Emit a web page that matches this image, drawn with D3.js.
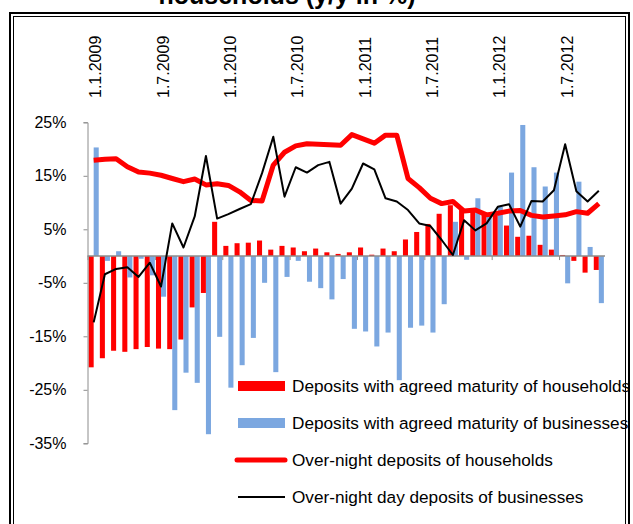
<!DOCTYPE html>
<html>
<head>
<meta charset="utf-8">
<script src="https://cdn.jsdelivr.net/npm/d3@7"></script>
<style>
  body { margin: 0; background: #fff; }
  svg text { font-family: "Liberation Sans", Arial, sans-serif; fill: #000; }
</style>
</head>
<body>
<div id="chart"></div>
<script>
// months Jan 2009 .. Oct 2012
var categories = [
  "1.1.2009","1.2.2009","1.3.2009","1.4.2009","1.5.2009","1.6.2009","1.7.2009","1.8.2009","1.9.2009","1.10.2009","1.11.2009","1.12.2009",
  "1.1.2010","1.2.2010","1.3.2010","1.4.2010","1.5.2010","1.6.2010","1.7.2010","1.8.2010","1.9.2010","1.10.2010","1.11.2010","1.12.2010",
  "1.1.2011","1.2.2011","1.3.2011","1.4.2011","1.5.2011","1.6.2011","1.7.2011","1.8.2011","1.9.2011","1.10.2011","1.11.2011","1.12.2011",
  "1.1.2012","1.2.2012","1.3.2012","1.4.2012","1.5.2012","1.6.2012","1.7.2012","1.8.2012","1.9.2012","1.10.2012"
];
var tickLabels = ["1.1.2009","1.7.2009","1.1.2010","1.7.2010","1.1.2011","1.7.2011","1.1.2012","1.7.2012"];
var yTicks = [-35, -25, -15, -5, 5, 15, 25];

// deposits with agreed maturity of households (red bars)
var hhAgreed = [-20.8,-19.1,-17.7,-17.9,-17.4,-17.0,-17.3,-17.4,-15.6,-9.6,-6.9,6.4,
  1.9,2.4,2.5,2.9,1.2,1.9,1.6,0.9,1.4,0.7,0.4,0.7,
  1.6,0.25,1.4,0.9,3.1,4.5,6.0,7.9,9.5,8.6,8.7,8.0,
  7.5,5.7,3.6,3.8,2.1,1.2,0.2,-0.9,-3.1,-2.6];
// deposits with agreed maturity of businesses (blue bars)
var bizAgreed = [20.3,-0.9,0.9,-4.0,-0.5,-3.6,-7.6,-28.8,-21.8,-23.7,-33.3,-15.1,
  -24.6,-20.4,-15.3,-5.0,-21.7,-3.9,-0.9,-4.8,-6.0,-8.1,-4.3,-13.6,
  -14.1,-16.9,-14.3,-23.2,-13.4,-13.0,-14.3,-9.0,6.4,-0.7,10.8,8.0,
  9.2,15.6,24.5,16.6,13.0,15.6,-5.1,13.9,1.7,-8.8];
// over-night deposits of households (thick red line)
var hhOvernight = [17.9,18.1,18.2,16.7,15.7,15.5,15.1,14.5,13.9,14.4,13.3,13.5,
  13.2,12.0,10.4,10.3,17.0,19.4,20.6,21.0,20.9,20.8,20.7,22.7,
  21.9,21.1,22.6,22.6,14.5,12.8,10.8,9.8,10.2,8.4,8.6,7.7,
  8.0,8.4,8.5,7.6,7.3,7.5,7.7,8.3,8.0,9.8];
// over-night deposits of businesses (black line)
var bizOvernight = [-12.4,-3.4,-2.4,-2.1,-3.9,-1.25,-5.7,6.1,1.6,7.4,18.7,7.0,
  7.85,8.8,9.7,15.5,22.3,11.1,16.6,15.6,17.0,17.6,9.8,12.6,
  17.3,16.2,10.8,10.2,8.6,6.1,5.6,3.0,0.2,6.7,4.8,6.1,
  9.2,9.7,5.5,10.3,10.2,12.3,20.9,12.1,10.2,12.2];

var seriesNames = [
  "Deposits with agreed maturity of households",
  "Deposits with agreed maturity of businesses",
  "Over-night deposits of households",
  "Over-night day deposits of businesses"
];

var width = 633, height = 524;
var plotLeft = 87.5, plotRight = 605, plotTop = 122.3, plotBottom = 443.3;
var red = "#ff0000", blue = "#7ba7e0", axisGrey = "#8c8c8c";

var svg = d3.select("#chart").append("svg")
    .attr("width", width)
    .attr("height", height);

// title (cut off at the top)
svg.append("text")
    .attr("x", 287).attr("y", 4)
    .attr("text-anchor", "middle")
    .style("font-size", "25px")
    .style("font-weight", "bold")
    .text("households (y/y in %)");

// double frame
svg.append("rect").attr("x", 10).attr("y", 13).attr("width", 619).attr("height", 600)
    .attr("fill", "none").attr("stroke", "#000").attr("stroke-width", 2);
svg.append("rect").attr("x", 13.5).attr("y", 16.5).attr("width", 612).attr("height", 600)
    .attr("fill", "none").attr("stroke", "#000").attr("stroke-width", 1);

var x = d3.scaleBand()
    .domain(categories)
    .range([plotLeft, plotRight])
    .paddingInner(0.1)
    .paddingOuter(0.1);

var x1 = d3.scaleBand()
    .domain(["hh", "biz"])
    .range([0, x.bandwidth()]);

var y = d3.scaleLinear()
    .domain([-35, 25])
    .range([plotBottom, plotTop]);

var cx = function(d, i) { return x(categories[i]) + x.bandwidth() / 2; };

// bars
svg.append("g").selectAll("rect")
  .data(hhAgreed)
  .enter()
  .append("rect")
    .attr("x", function(d, i) { return x(categories[i]) + x1("hh"); })
    .attr("y", function(d) { return y(Math.max(0, d)); })
    .attr("width", x1.bandwidth())
    .attr("height", function(d) { return Math.abs(y(d) - y(0)); })
    .attr("fill", red);

svg.append("g").selectAll("rect")
  .data(bizAgreed)
  .enter()
  .append("rect")
    .attr("x", function(d, i) { return x(categories[i]) + x1("biz"); })
    .attr("y", function(d) { return y(Math.max(0, d)); })
    .attr("width", x1.bandwidth())
    .attr("height", function(d) { return Math.abs(y(d) - y(0)); })
    .attr("fill", blue);

// y axis
var yAxis = svg.append("g")
    .attr("transform", "translate(" + plotLeft + ",0)")
    .call(d3.axisLeft(y).tickValues(yTicks).tickSize(4).tickPadding(17)
      .tickFormat(function(d) { return d + "%"; }));
yAxis.select(".domain").attr("stroke", axisGrey);
yAxis.selectAll(".tick line").attr("stroke", axisGrey);
yAxis.selectAll(".tick text").style("font-size", "16px").attr("fill", "#000");

// x axis line at zero with ticks every 6 months
var zeroY = y(0);
svg.append("line")
    .attr("x1", plotLeft).attr("x2", plotRight)
    .attr("y1", zeroY).attr("y2", zeroY)
    .attr("stroke", axisGrey).attr("stroke-width", 1.5);
svg.append("g").selectAll("line")
  .data(tickLabels)
  .enter()
  .append("line")
    .attr("x1", function(d) { return x(d) - x.step() * x.paddingInner() / 2; })
    .attr("x2", function(d) { return x(d) - x.step() * x.paddingInner() / 2; })
    .attr("y1", zeroY).attr("y2", zeroY + 4)
    .attr("stroke", axisGrey);

// rotated date labels at the top
svg.append("g").selectAll("text")
  .data(tickLabels)
  .enter()
  .append("text")
    .attr("transform", function(d) {
      return "translate(" + (x(d) + x.bandwidth() / 2 + 2) + ",98) rotate(-90)";
    })
    .attr("dy", "0.35em")
    .style("font-size", "16px")
    .text(function(d) { return d; });

// lines
var line = d3.line()
    .x(function(d, i) { return cx(d, i); })
    .y(function(d) { return y(d); });

svg.append("path")
    .datum(hhOvernight)
    .attr("d", line)
    .attr("fill", "none")
    .attr("stroke", red)
    .attr("stroke-width", 5)
    .attr("stroke-linejoin", "round");

svg.append("path")
    .datum(bizOvernight)
    .attr("d", line)
    .attr("fill", "none")
    .attr("stroke", "#000")
    .attr("stroke-width", 2)
    .attr("stroke-linejoin", "round");

// legend
var legend = svg.append("g");
var rowY = [386, 423, 460, 497];

legend.append("rect").attr("x", 238).attr("y", rowY[0] - 5).attr("width", 47).attr("height", 10).attr("fill", red);
legend.append("rect").attr("x", 238).attr("y", rowY[1] - 5).attr("width", 47).attr("height", 10).attr("fill", blue);
legend.append("line").attr("x1", 237).attr("x2", 285).attr("y1", rowY[2]).attr("y2", rowY[2])
    .attr("stroke", red).attr("stroke-width", 5).attr("stroke-linecap", "round");
legend.append("line").attr("x1", 238).attr("x2", 285).attr("y1", rowY[3]).attr("y2", rowY[3])
    .attr("stroke", "#000").attr("stroke-width", 2);

legend.selectAll("text")
  .data(seriesNames)
  .enter()
  .append("text")
    .attr("x", 292)
    .attr("y", function(d, i) { return rowY[i]; })
    .attr("dy", "0.36em")
    .style("font-size", "17.2px")
    .text(function(d) { return d; });
</script>
</body>
</html>
